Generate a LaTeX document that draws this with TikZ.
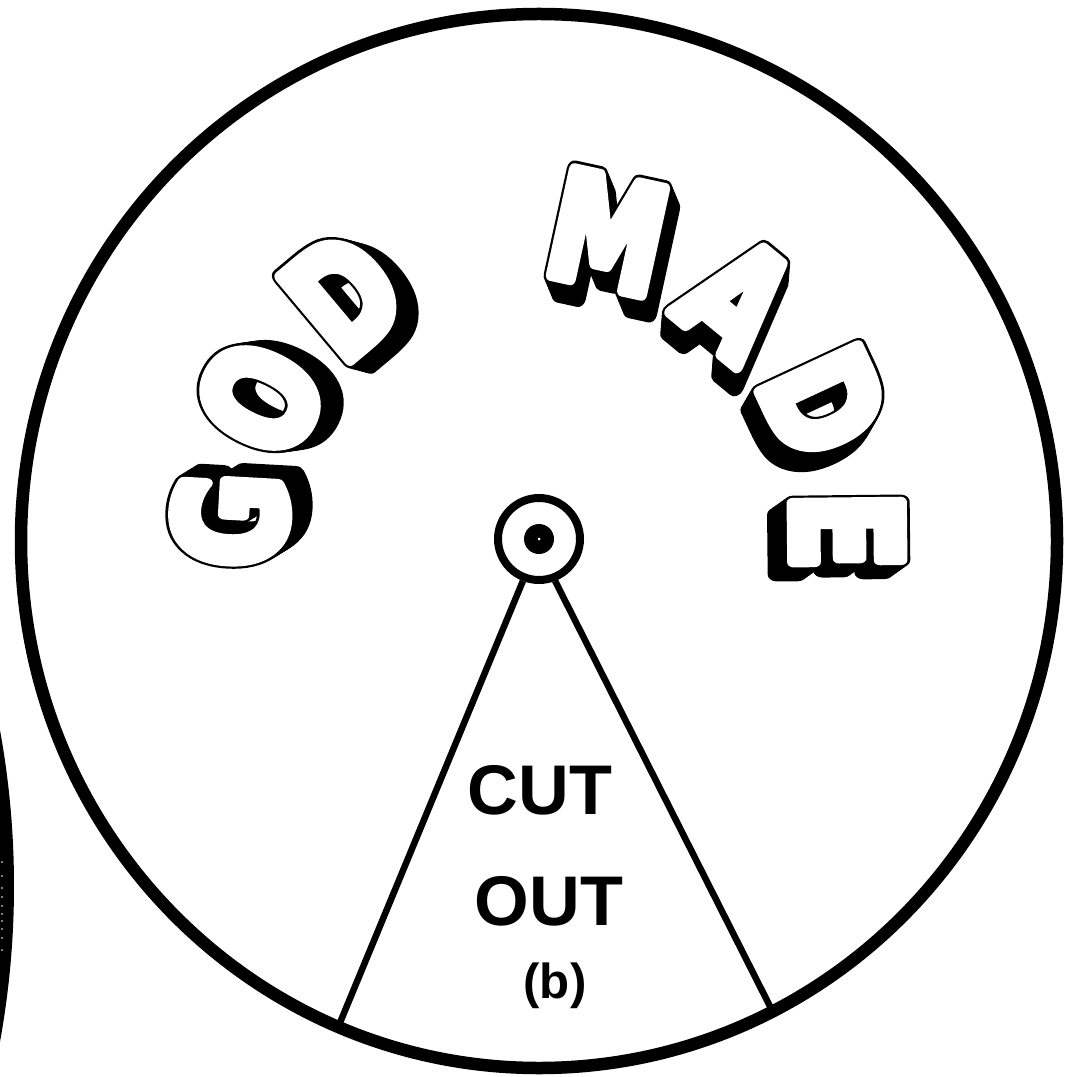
\documentclass[tikz,border=0pt]{standalone}
\usepackage{fontspec}
\setmainfont{Liberation Sans}
\newfontfamily\blockfont{DejaVu Sans}
\usetikzlibrary{calc}
\newcommand{\rimx}{5.18}
\newcommand{\rimy}{5.27}
\newcommand{\rimw}{1.25mm}
\newcommand{\wedgew}{0.65mm}
\newcommand{\hubw}{0.8mm}
\newcommand{\hubd}{0.82cm}

% glyph drawn with a stroke round it: #1 stroke width, #2 stroke grey, #3 letter
\newcommand{\strokedglyph}[3]{%
  \special{pdf:literal direct #1 w 1 j #2 G 2 Tr}#3\special{pdf:literal direct 0 Tr}}

% one block letter with its shadow: #1 name, #2 position, #3 angle, #4 letter
\newcommand{\blockletter}[4]{%
  \begin{scope}[shift={#2}, rotate=#3, xscale=0.78, transform shape]
    % extrusion
    \foreach \k in {1,...,6}
      \node [blockstyle, text=black] at (\k*0.025, -\k*0.028) {\strokedglyph{5.2}{0}{#4}};
    % outline and face
    \node [blockstyle, text=black] at (0,0) {\strokedglyph{5.2}{0}{#4}};
    \node [blockstyle, text=white] (#1) at (0,0) {\strokedglyph{3.6}{1}{#4}};
  \end{scope}}

\tikzset{
  blockstyle/.style={inner sep=0pt,
    font=\blockfont\bfseries\fontsize{42}{42}\selectfont},
  cutstyle/.style={inner sep=0pt,
    font=\bfseries\fontsize{20}{20}\selectfont},
  rimline/.style={line width=\rimw},
  wedgeline/.style={line width=\wedgew}
}

\begin{document}
\begin{tikzpicture}

  \useasboundingbox (0,0) rectangle (10.77,10.76);

  %%%%%%%%%%% edge of the next disc, left
  \begin{scope}
    \clip (0,0) rectangle (10.77,10.76);
    \fill (-8.50,1.90) circle (8.64);
    \foreach \yy in {1.26,1.38,1.47,1.55,1.62,1.70,1.79,1.88,2.00,2.14}
      \fill [white] (0.02,\yy) circle (0.008);
  \end{scope}

  %%%%%%%%%%% disc
  \coordinate (rim) at (5.39,5.35);
  \draw [rimline] (rim) ellipse [x radius=\rimx, y radius=\rimy];

  % hub
  \node [circle,
  draw=black,
  line width=\hubw,
  minimum size=\hubd,
  inner sep=0pt,
  fill=white] (hub) at (5.39,5.37) {};
  \fill (hub.center) circle (0.15);
  \fill [white] (hub.center) circle (0.015);

  % cut out sector
  \coordinate (cutL) at ($(rim)+(-112.8:\rimx cm and \rimy cm)$);
  \coordinate (cutR) at ($(rim)+(-63.2:\rimx cm and \rimy cm)$);
  \draw [wedgeline] (hub.-111) -- (cutL);
  \draw [wedgeline] (hub.-69) -- (cutR);

  \node [cutstyle] (cut) at (5.40,2.86) {CUT};
  \node [cutstyle] (out) at (5.49,1.75) {OUT};
  \node [inner sep=0pt, font=\bfseries\fontsize{14}{14}\selectfont] (part) at (5.55,0.90) {(b)};

  %%%%%%%%%%% lettering round the hub
  \blockletter{lg}{(2.30,5.56)}{86.8}{G}
  \blockletter{lo}{(2.60,6.78)}{63.4}{O}
  \blockletter{ld}{(3.43,7.81)}{40}{D}
  \blockletter{lm}{(6.08,8.44)}{-12.3}{M}
  \blockletter{la}{(7.38,7.78)}{-39.5}{A}
  \blockletter{ldd}{(8.24,6.74)}{-65}{D}
  \blockletter{le}{(8.47,5.45)}{-89.4}{E}

\end{tikzpicture}
\end{document}
